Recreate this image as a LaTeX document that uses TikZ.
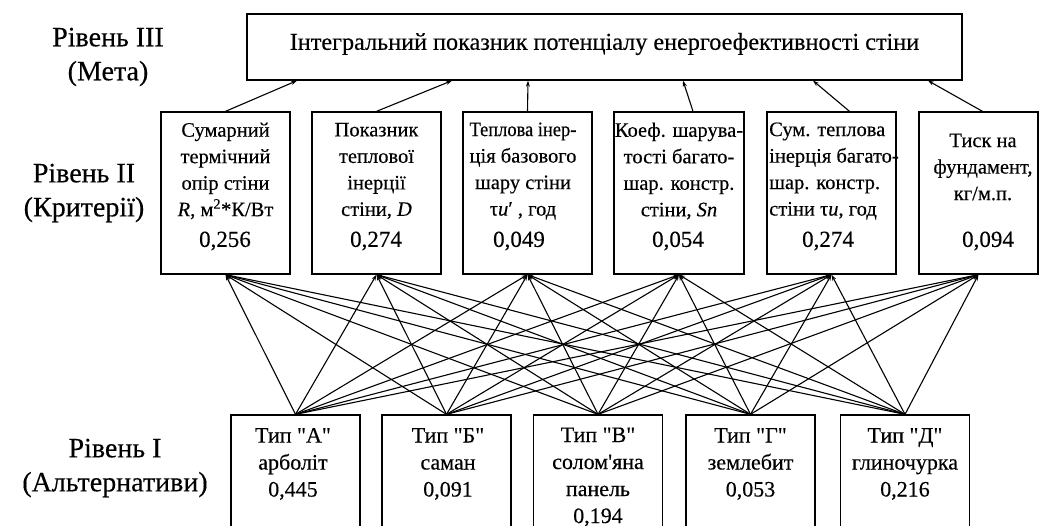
\documentclass[tikz,border=0pt]{standalone}
\usepackage{fontspec}
\usepackage{graphicx}
\setmainfont{Liberation Serif}[Ligatures=TeXOff, FakeBold=0.3]
\usetikzlibrary{arrows.meta}
\begin{document}
\begin{tikzpicture}[x=1pt,y=-1pt,
  box/.style={draw, line width=1.3pt, inner sep=0pt},
  lvl/.style={font=\fontsize{28}{34}\selectfont, align=center, inner sep=0pt},
  ctext/.style={font=\fontsize{20.5}{26.5}\selectfont, align=center, inner sep=0pt},
  ltext/.style={font=\fontsize{20.5}{26.5}\selectfont, align=left, inner sep=0pt},
  val/.style={font=\fontsize{23}{27}\selectfont, inner sep=0pt},
  atext/.style={font=\fontsize{22}{27}\selectfont, align=center, inner sep=0pt},
  gtext/.style={font=\fontsize{24.2}{28}\selectfont, inner sep=0pt},
  conn/.style={line width=1.1pt, -{Stealth[length=6pt,width=4pt]}},
  crit/.style={box, minimum width=129pt, minimum height=162pt},
  alt/.style={box, minimum width=129pt, minimum height=130pt},
]
\useasboundingbox (0,0) rectangle (1039,525);
\clip (0,0) rectangle (1039,525);

% level labels
\node[lvl] (l3) at (108,57) {Рівень III\\(Мета)};
\node[lvl] (l2) at (84,193) {Рівень II\\(Критерії)};
\node[lvl] (l1) at (115,468) {Рівень I\\(Альтернативи)};

% goal
\node[box, minimum width=715pt, minimum height=66pt] (goal) at (604.5,47) {};
\node[gtext] (goalt) at (604.5,44) {Інтегральний показник потенціалу енергоефективності стіни};

% criteria
\node[crit] (c1) at (225.5,193) {};
\node[crit] (c2) at (376.5,193) {};
\node[crit] (c3) at (527.5,193) {};
\node[crit, minimum width=130pt] (c4) at (679,193) {};
\node[crit] (c5) at (831.5,193) {};
\node[crit, minimum width=119pt] (c6) at (978.5,193) {};

\node[ctext] (c1t) at (225.5,171) {Сумарний\\термічний\\опір стіни\\\textit{R}, м\textsuperscript{2}*К/Вт};
\node[ctext] (c2t) at (376.5,171) {Показник\\теплової\\інерції\\стіни, \textit{D}};
\node[ctext] (c3t) at (523,171) {\scalebox{0.9}[1]{Теплова інер-}\\ція базового\\шару стіни\\τ\textit{u}′ , год};
\node[ctext] (c4t) at (679,171) {Коеф. шарува-\\тості багато-\\шар. констр.\\стіни, \textit{Sn}};
\node[ltext, anchor=west] (c5t) at (769,171) {Сум. теплова\\інерція багато-\\шар. констр.\\стіни τ\textit{u}, год};
\node[ctext] (c6t) at (983,167) {Тиск на\\фундамент,\\кг/м.п.};

\node[val] (c1v) at (225,241) {0,256};
\node[val] (c2v) at (376,241) {0,274};
\node[val] (c3v) at (519,241) {0,049};
\node[val] (c4v) at (678,241) {0,054};
\node[val] (c5v) at (828,241) {0,274};
\node[val] (c6v) at (988,241) {0,094};

% alternatives
\node[alt] (a1) at (295.5,480) {};
\node[alt] (a2) at (446.5,480) {};
\node[alt] (a3) at (598,480) {};
\node[alt] (a4) at (750.5,480) {};
\node[alt] (a5) at (905,480) {};

\node[atext] (a1t) at (293,464) {Тип "А"\\арболіт\\0,445};
\node[atext] (a2t) at (448,464) {Тип "Б"\\саман\\0,091};
\node[atext] (a3t) at (598,477) {Тип "В"\\солом{\char39}яна\\панель\\0,194};
\node[atext] (a4t) at (750.5,464) {Тип "Г"\\землебит\\0,053};
\node[atext] (a5t) at (905,464) {Тип "Д"\\глиночурка\\0,216};

% connectors criteria -> goal
\draw[conn] (c1.north) -- ([xshift=-307.5pt]goal.south);
\draw[conn] (c2.north) -- ([xshift=-152.5pt]goal.south);
\draw[conn] (c3.north) -- ([xshift=-76.5pt]goal.south);
\draw[conn] ([xshift=14pt]c4.north) -- ([xshift=78.5pt]goal.south);
\draw[conn] ([xshift=18pt]c5.north) -- ([xshift=208.5pt]goal.south);
\draw[conn] ([xshift=4pt]c6.north) -- ([xshift=323.5pt]goal.south);

% connectors alternatives -> criteria
\foreach \a in {a1,a2,a3,a4,a5}{
  \foreach \c in {c1,c2,c3,c4,c5,c6}{
    \draw[conn] (\a.north) -- (\c.south);
  }
}
\end{tikzpicture}
\end{document}
